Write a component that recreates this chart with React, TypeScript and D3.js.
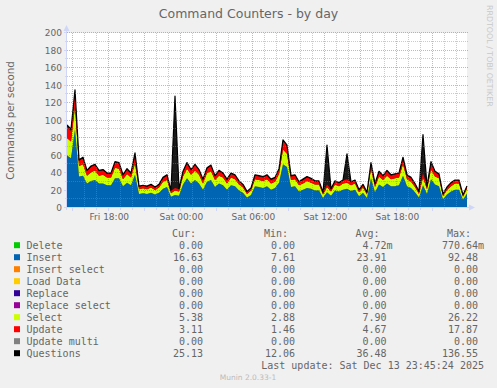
import React from 'react'
import * as d3 from 'd3'

// 20-minute samples, Fri 14:33:20 -> Sat 23:53:20 (UTC)
const START = Date.UTC(2025, 11, 12, 14, 33, 20)
const STEP_MIN = 20

const insert = [60, 57, 90, 36, 37, 28, 31, 32, 28, 28, 26, 26, 34, 34, 25, 29, 26, 38, 16, 17,
  16, 17.5, 15.5, 17.5, 22, 24, 13, 15, 14, 27, 34, 28, 32, 28, 21, 30, 32, 24, 28, 26,
  21, 26, 25, 20, 17.5, 12, 15, 25, 24, 23, 25, 21, 23, 29, 50, 47, 24, 25, 19, 21,
  23, 22, 20, 20, 11.5, 18, 14, 20, 19, 21, 22, 19.5, 21, 13.5, 17.5, 11.5, 34, 18, 27, 24,
  28, 25, 25, 26, 37, 25, 23, 18, 12, 26, 16, 33, 27, 25, 10, 15.5, 19, 21, 21, 9.5, 16.63]
const select = [20, 19, 26, 12, 13, 9, 10, 11, 9, 10, 9, 9, 12, 11, 8, 10, 9, 13, 5.5, 5.5,
  5.5, 6, 5, 6, 8, 8, 4, 5, 5, 9, 11, 10, 11, 10, 7, 10, 10, 8, 9, 9,
  7, 9, 8, 7, 6, 4, 5, 8, 8, 8, 8, 7, 7, 10, 17, 15, 8, 8, 7, 7,
  8, 7, 7, 7, 4, 6, 5, 7, 6, 7, 7, 6.5, 7, 4.5, 6, 4, 11, 6, 9, 8,
  9, 8, 9, 9, 13, 8, 7, 6, 4, 9, 5.5, 11, 9, 9, 3.5, 5, 6, 7, 7, 3.5, 5.38]
const update = [13, 12, 17, 6, 7, 5, 6, 6, 5, 5, 4, 4, 6, 6, 4, 5, 4, 7, 3, 3,
  3, 3, 3, 3, 4, 5, 2.5, 3, 2.5, 5, 6, 5, 6, 5, 4, 5, 6, 4, 5, 4,
  4, 4, 4, 3.5, 3, 2.5, 2.5, 4, 4, 4, 4, 4, 4, 5, 10, 9, 4, 4, 3.5, 4,
  4, 4, 3.5, 3.5, 2, 3, 2.5, 3.5, 3.5, 3.5, 4, 3.5, 3.5, 2.5, 3, 2, 6, 3.5, 5, 4,
  5, 4, 4.5, 4.5, 7, 4, 4, 3.5, 2.5, 5, 3, 6, 5, 4.5, 2, 3, 3.5, 3.5, 3.5, 2, 3.11]
const questions = [95, 90, 135, 55, 58, 43, 48, 50, 43, 44, 40, 40, 53, 52, 38, 45, 40, 63, 25, 26,
  25, 27, 24, 27, 35, 38, 20, 128, 22, 42, 52, 44, 50, 44, 33, 46, 49, 37, 43, 40,
  33, 40, 38, 31, 27, 19, 23, 38, 37, 36, 38, 33, 35, 45, 78, 72, 37, 38, 30, 33,
  36, 34, 31, 31, 18, 72, 22, 31, 29, 32, 62, 30, 32, 21, 27, 18, 52, 28, 42, 37,
  43, 38, 39, 40, 58, 38, 35, 28, 19, 84, 25, 53, 42, 39, 16, 24, 29, 32, 32, 15, 25.13]

const legendNames = ['Delete', 'Insert', 'Insert select', 'Load Data', 'Replace', 'Replace select',
  'Select', 'Update', 'Update multi', 'Questions']
const legendColors = ['#00CC00', '#0066B3', '#FF8000', '#FFCC00', '#330099', '#990099',
  '#CCFF00', '#FF0000', '#808080', '#000000']
const curVals = ['0.00', '16.63', '0.00', '0.00', '0.00', '0.00', '5.38', '3.11', '0.00', '25.13']
const minVals = ['0.00', '7.61', '0.00', '0.00', '0.00', '0.00', '2.88', '1.46', '0.00', '12.06']
const avgVals = ['4.72m', '23.91', '0.00', '0.00', '0.00', '0.00', '7.90', '4.67', '0.00', '36.48']
const maxVals = ['770.64m', '92.48', '0.00', '0.00', '0.00', '0.00', '26.22', '17.87', '0.00', '136.55']

const W = 497
const H = 388
const left = 67, right = 467, top = 33, bottom = 208
const FONT = 'DejaVu Sans, sans-serif'
const MONO = 'DejaVu Sans Mono, monospace'
const TXT = '#666666'
const AXIS = '#CFD6F8'

export default function App() {
  const rows = insert.map((v, i) => ({
    t: new Date(START + i * STEP_MIN * 60000),
    insert: v, select: select[i], update: update[i], questions: questions[i]
  }))

  const x = d3.scaleUtc()
    .domain([rows[0].t, rows[rows.length - 1].t])
    .range([left, right])
  const y = d3.scaleLinear().domain([0, 200]).range([bottom, top])

  const keys = ['insert', 'select', 'update']
  const colors: Record<string, string> = { insert: '#0066B3', select: '#CCFF00', update: '#FF0000' }
  const series = d3.stack<any>().keys(keys)(rows)

  const area = d3.area<any>()
    .x(d => x(d.data.t))
    .y0(d => y(d[0]))
    .y1(d => y(d[1]))
  const qArea = d3.area<any>()
    .x(d => x(d.t))
    .y0(y(0))
    .y1(d => y(d.questions))
  const line = d3.line<any>()
    .x(d => x(d.t))
    .y(d => y(d.questions))

  const hours = d3.utcHour.every(1)!.range(x.domain()[0], x.domain()[1])
  const labelTicks = d3.utcHour.every(6)!.range(x.domain()[0], x.domain()[1])
  const fmt = d3.utcFormat('%a %H:%M')
  const yMinor = d3.range(0, 201, 10)
  const yLabels = d3.range(0, 201, 20)
  const px = (v: number) => Math.round(v) + 0.5

  const rowY = (i: number) => 245.7 + i * 12
  const cols = [203, 295, 386.5, 478]
  const heads = ['Cur:', 'Min:', 'Avg:', 'Max:']
  const colVals = [curVals, minVals, avgVals, maxVals]

  const splitVal = (s: string) => {
    const m = s.match(/^([\d.]+)(\D*)$/)
    return m ? [m[1], m[2]] : [s, '']
  }

  return (
    <svg width={W} height={H} style={{ position: 'absolute', left: 0, top: 0 }}>
      <rect width={W} height={H} fill="#F0F0F0" />
      <rect x={left} y={top} width={right - left} height={bottom - top} fill="#FFFFFF" />

      {/* questions total behind the stack, then stacked areas */}
      <path d={qArea(rows) || ''} fill="#1a1a1a" />
      {series.map(s => (
        <path key={s.key} d={area(s) || ''} fill={colors[s.key]} />
      ))}
      <path d={line(rows) || ''} fill="none" stroke="#000" strokeWidth={1.2} strokeLinejoin="round" />

      {/* grid */}
      <g shapeRendering="crispEdges">
        {yMinor.map(v => (
          <line key={'gy' + v} x1={left} x2={right + 1} y1={px(y(v)) - 1} y2={px(y(v)) - 1}
            stroke={v % 20 === 0 ? 'rgba(255,0,0,0.38)' : 'rgba(140,140,140,0.45)'}
            strokeDasharray="1,1" />
        ))}
        {hours.map(h => (
          <line key={'gx' + h.getTime()} x1={px(x(h))} x2={px(x(h))} y1={top} y2={bottom}
            stroke={h.getUTCHours() % 3 === 0 ? 'rgba(255,0,0,0.38)' : 'rgba(140,140,140,0.45)'}
            strokeDasharray="1,1" />
        ))}
      </g>

      {/* axes */}
      <g shapeRendering="crispEdges" stroke={AXIS}>
        <line x1={px(left) - 1} x2={px(left) - 1} y1={top - 4} y2={bottom + 2} />
        <line x1={left - 2} x2={right + 4} y1={px(bottom) - 1} y2={px(bottom) - 1} />
        {hours.map(h => (
          <line key={'tx' + h.getTime()} x1={px(x(h))} x2={px(x(h))} y1={bottom}
            y2={bottom + (h.getUTCHours() % 3 === 0 ? 3 : 2)} />
        ))}
        {yMinor.map(v => (
          <line key={'ty' + v} x1={left - (v % 20 === 0 ? 3 : 2)} x2={left} y1={px(y(v)) - 1} y2={px(y(v)) - 1} />
        ))}
      </g>
      <polygon points={`${left - 3.5},${top - 2} ${left + 2.5},${top - 2} ${left - 0.5},${top - 8}`} fill={AXIS} />
      <polygon points={`${right + 2},${bottom - 3.5} ${right + 2},${bottom + 2.5} ${right + 8},${bottom - 0.5}`} fill={AXIS} />

      {/* axis labels */}
      {yLabels.map(v => (
        <text key={'yl' + v} x={62} y={y(v) + 3.3} textAnchor="end" fontFamily={FONT} fontSize={9} fill={TXT}>{v}</text>
      ))}
      {labelTicks.map(h => (
        <text key={'xl' + h.getTime()} x={x(h) + 1} y={220} textAnchor="middle" fontFamily={FONT} fontSize={9} fill={TXT}>{fmt(h)}</text>
      ))}

      <text x={248.5} y={18} textAnchor="middle" fontFamily={FONT} fontSize={12.5} fill={TXT}>Command Counters - by day</text>
      <text transform={`translate(13.5,${(top + bottom) / 2}) rotate(-90)`} textAnchor="middle"
        fontFamily={FONT} fontSize={10.3} fill={TXT}>Commands per second</text>
      <text transform="translate(486.5,5) rotate(90)" textAnchor="start" fontFamily={FONT} fontSize={7.9} fill="#C8C8C8">RRDTOOL / TOBI OETIKER</text>

      {/* legend */}
      {heads.map((h, j) => (
        <text key={'h' + j} x={cols[j] - 7} y={237} textAnchor="end" fontFamily={MONO} fontSize={10} fill={TXT}>{h}</text>
      ))}
      {legendNames.map((name, i) => (
        <g key={name}>
          <rect x={14} y={rowY(i) - 3.5} width={6} height={6} fill={legendColors[i]} />
          <text x={26.5} y={rowY(i) + 3.5} fontFamily={MONO} fontSize={10} fill={TXT}>{name}</text>
          {colVals.map((vals, j) => {
            const [num, unit] = splitVal(vals[i])
            return (
              <g key={j}>
                <text x={cols[j]} y={rowY(i) + 3.5} textAnchor="end" fontFamily={MONO} fontSize={10} fill={TXT}>{num}</text>
                {unit && <text x={cols[j]} y={rowY(i) + 3.5} fontFamily={MONO} fontSize={10} fill={TXT}>{unit}</text>}
              </g>
            )
          })}
        </g>
      ))}
      <text x={484} y={368.5} textAnchor="end" fontFamily={MONO} fontSize={10} fill={TXT}>Last update:  Sat Dec 13 23:45:24 2025</text>
      <text x={248} y={380} textAnchor="middle" fontFamily={FONT} fontSize={7.5} fill="#BBBBBB">Munin 2.0.33-1</text>
    </svg>
  )
}
